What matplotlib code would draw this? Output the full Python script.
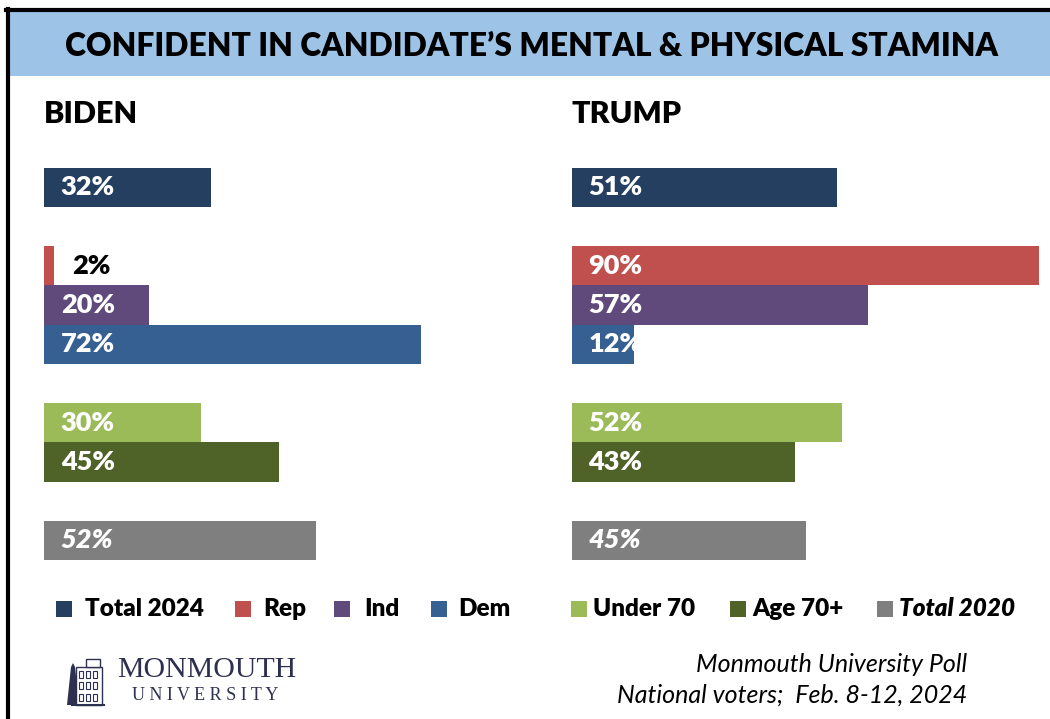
import matplotlib
matplotlib.use("Agg")
import matplotlib.pyplot as plt
import matplotlib.patches as patches
from matplotlib import font_manager

# Données
groupes = ["Total 2024", "Rep", "Ind", "Dem", "Under 70", "Age 70+", "Total 2020"]
positions = [0, 2, 3, 4, 6, 7, 9]          # lignes (avec espaces entre blocs)
biden = [32, 2, 20, 72, 30, 45, 52]
trump = [51, 90, 57, 12, 52, 43, 45]
couleurs = ["#243F60", "#C0504D", "#604A7B", "#366092", "#9BBB59", "#4F6228", "#7F7F7F"]

W, H = 1050, 719
fig = plt.figure(figsize=(W / 100, H / 100), dpi=100)

dispo = {f.name for f in font_manager.fontManager.ttflist}
police = "Lato" if "Lato" in dispo else "DejaVu Sans"
gras = 800   # Calibri gras paraît plus épais que Lato Bold


def fx(px):
    return px / W


def fy(py):
    return 1 - py / H


# Bandeau du titre et cadre noir
fig.patches.append(patches.Rectangle((fx(9), fy(76)), fx(W - 9), (76 - 11) / H,
                                     transform=fig.transFigure, facecolor="#9DC3E6",
                                     edgecolor="none", zorder=0))
fig.lines.append(plt.Line2D([fx(7.5), fx(7.5)], [fy(9), fy(719)], color="black", lw=3,
                            transform=fig.transFigure))
fig.lines.append(plt.Line2D([fx(6), 1], [fy(9.5), fy(9.5)], color="black", lw=3,
                            transform=fig.transFigure))

titre = fig.text(fx(532), fy(46), "CONFIDENT IN CANDIDATE\u2019S MENTAL & PHYSICAL STAMINA",
                 ha="center", va="center", fontsize=24, fontweight=gras,
                 family=police, color="black")
# ajuste la taille du titre à la largeur voulue (~935 px)
fig.canvas.draw()
larg = titre.get_window_extent().width
titre.set_fontsize(24 * 935 / larg)

fig.text(fx(44), fy(114), "BIDEN", ha="left", va="center", fontsize=22,
         fontweight=gras, family=police)
fig.text(fx(572), fy(114), "TRUMP", ha="left", va="center", fontsize=22,
         fontweight=gras, family=police)

# Axes des barres : y de -0.5 (px 167) à 9.5 (px 560)
y_haut, y_bas = 167.5, 560
for gauche, echelle, valeurs in [(44, 5.23, biden), (572, 5.19, trump)]:
    ax = fig.add_axes([fx(gauche), fy(y_bas), echelle * 92 / W, (y_bas - y_haut) / H])
    ax.barh(positions, valeurs, height=1.0, color=couleurs)
    ax.set_xlim(0, 92)
    ax.set_ylim(9.5, -0.5)
    ax.axis("off")
    for pos, v, g in zip(positions, valeurs, groupes):
        style = "italic" if g == "Total 2020" else "normal"
        if v < 6:
            ax.text(5.3, pos, f"{v}%", ha="left", va="center", color="black",
                    fontsize=19.5, fontweight=gras, family=police)
        else:
            ax.text(3.2, pos, f"{v}%", ha="left", va="center", color="white",
                    fontsize=19.5, fontweight=gras, fontstyle=style, family=police,
                    clip_on=False)

# Légende
carres = [56, 235, 334, 431, 571, 730, 877]
textes = [85, 263, 364, 458, 593, 752, 899]
for cx, tx, g, c in zip(carres, textes, groupes, couleurs):
    fig.patches.append(patches.Rectangle((fx(cx), fy(617)), fx(16), 16 / H,
                                         transform=fig.transFigure, facecolor=c,
                                         edgecolor="none"))
    fig.text(fx(tx), fy(609), g, ha="left", va="center", fontsize=17.5, fontweight=gras,
             fontstyle="italic" if g == "Total 2020" else "normal", family=police)

# Logo Monmouth (simplifié)
marine = "#2E3050"
logo = fig.add_axes([fx(64), fy(707), fx(44), 54 / H])
logo.set_xlim(0, 44)
logo.set_ylim(0, 54)
logo.axis("off")
logo.add_patch(patches.Polygon([[3, 2], [7, 40], [9, 44], [11, 40], [15, 2]],
                               closed=True, facecolor=marine, edgecolor="none"))
logo.add_patch(patches.Rectangle((12, 2), 26, 38, facecolor="white", edgecolor=marine, lw=1))
logo.add_patch(patches.Rectangle((22, 40), 14, 8, facecolor="white", edgecolor=marine, lw=1))
for wx in [15, 22, 29]:
    for wy in [6, 18, 29]:
        logo.add_patch(patches.Rectangle((wx, wy), 4, 7, facecolor="white",
                                         edgecolor=marine, lw=0.8))
logo.plot([8, 40], [2, 2], color=marine, lw=1.5)

fig.text(fx(117), fy(670), "MONMOUTH", ha="left", va="center", fontsize=21.5,
         family="Liberation Serif", color=marine)
fig.text(fx(132), fy(696), "U N I V E R S I T Y", ha="left", va="center", fontsize=13,
         family="Liberation Serif", color=marine)

# Source
fig.text(fx(967), fy(665), "Monmouth University Poll", ha="right", va="center",
         fontsize=18, fontstyle="italic", family=police)
fig.text(fx(967), fy(695), "National voters;  Feb. 8-12, 2024", ha="right", va="center",
         fontsize=18, fontstyle="italic", family=police)

fig.savefig("out.png", dpi=100)
